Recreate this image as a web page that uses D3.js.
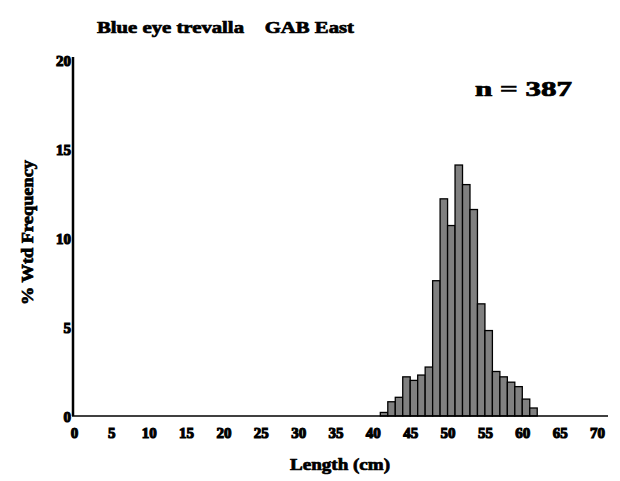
<!DOCTYPE html>
<html><head><meta charset="utf-8">
<script src="https://cdn.jsdelivr.net/npm/d3@7"></script>
<style>body{margin:0;background:#fff}text{font-family:"Liberation Serif",serif;font-weight:bold;fill:#000;stroke:#000;stroke-width:0.7px}.tk text{stroke-width:1.1px}</style>
</head><body><svg id="c" width="620" height="481"></svg>
<script>
const lengths = [41,42,43,44,45,46,47,48,49,50,51,52,53,54,55,56,57,58,59,60,61];
const freq = [0.2,0.8,1.05,2.2,2.0,2.3,2.75,7.6,12.2,10.7,14.1,13.0,11.6,6.3,4.8,2.5,2.2,1.9,1.65,0.95,0.45];
const xTicks = [0,5,10,15,20,25,30,35,40,45,50,55,60,65,70];
const yTicks = [0,5,10,15,20];
const title = "Blue eye trevalla    GAB East";
const nLabel = "n = 387";
const xLabel = "Length (cm)";
const yLabel = "% Wtd Frequency";

const svg = d3.select("#c");
const x = d3.scaleLinear().domain([0,70]).range([74,597]);
const y = d3.scaleLinear().domain([0,20]).range([416,60]);

svg.append("g").selectAll("rect").data(lengths).join("rect")
  .attr("x", d=>x(d)).attr("width", d=>x(d+1)-x(d))
  .attr("y", (d,i)=>y(freq[i])).attr("height",(d,i)=>y(0)-y(freq[i]))
  .attr("fill","#808080").attr("stroke","#000").attr("stroke-width",1.3);

// axes lines
svg.append("line").attr("x1",73).attr("x2",73).attr("y1",57).attr("y2",y(0)).attr("stroke","#000").attr("stroke-width",2.5);
svg.append("line").attr("x1",72).attr("x2",608).attr("y1",y(0)).attr("y2",y(0)).attr("stroke","#000").attr("stroke-width",1.5);

const xa = d3.axisBottom(x).tickValues(xTicks).tickSize(0).tickPadding(0);
const gx = svg.append("g").attr("class","tk").attr("transform","translate(0,438)").call(xa);
gx.select(".domain").remove();
gx.selectAll("text").attr("dy",null).attr("y",0).style("font-size","15px").attr("font-family",null).attr("fill",null);

const ya = d3.axisLeft(y).tickValues(yTicks).tickSize(0).tickPadding(0);
const gy = svg.append("g").attr("class","tk").attr("transform","translate(71,0)").call(ya);
gy.select(".domain").remove();
gy.selectAll("text").attr("dy","0.35em").style("font-size","15px").attr("font-family",null).attr("fill",null);

svg.append("text").attr("x",97).attr("y",33).attr("textLength",257).attr("lengthAdjust","spacingAndGlyphs")
  .style("font-size","17px").style("white-space","pre").text(title);
svg.append("text").attr("x",475).attr("y",96).attr("textLength",97).attr("lengthAdjust","spacingAndGlyphs")
  .style("font-size","20px").style("white-space","pre").text(nLabel);
svg.append("text").attr("x",290).attr("y",470).attr("textLength",100).attr("lengthAdjust","spacingAndGlyphs")
  .style("font-size","16px").text(xLabel);
svg.append("text").attr("transform","translate(33,305) rotate(-90)").attr("textLength",145).attr("lengthAdjust","spacingAndGlyphs")
  .style("font-size","16px").text(yLabel);
</script></body></html>
